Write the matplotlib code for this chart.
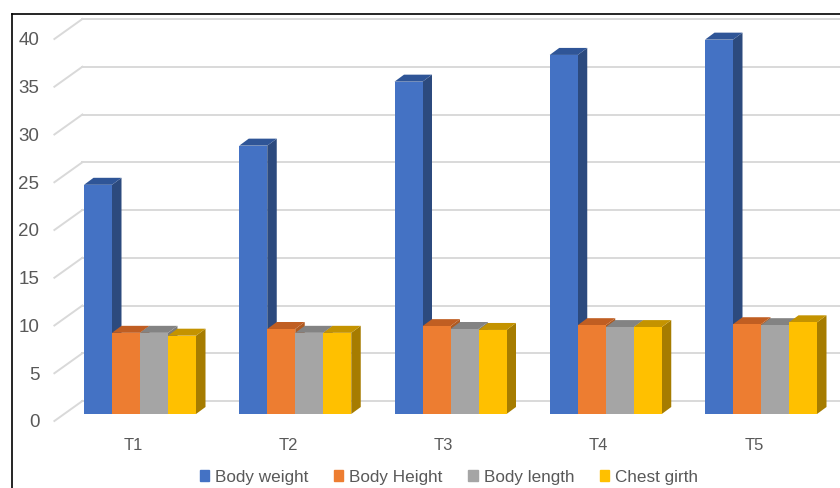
import numpy as np
import matplotlib.pyplot as plt
from matplotlib.patches import Polygon, Patch
from matplotlib.lines import Line2D

categories = ['T1', 'T2', 'T3', 'T4', 'T5']
series_names = ['Body weight', 'Body Height', 'Body length', 'Chest girth']
body_weight = [24.0, 28.1, 34.8, 37.6, 39.2]
body_height = [8.5, 8.9, 9.2, 9.3, 9.4]
body_length = [8.5, 8.5, 8.9, 9.1, 9.3]
chest_girth = [8.2, 8.5, 8.8, 9.1, 9.6]
y_ticks = [0, 5, 10, 15, 20, 25, 30, 35, 40]

values = [body_weight, body_height, body_length, chest_girth]
front_cols = ['#4472C4', '#ED7D31', '#A5A5A5', '#FFC000']
top_cols = ['#2F5597', '#C05E22', '#838383', '#C49300']
side_cols = ['#2C4A7E', '#AE5A21', '#7A7A7A', '#A67C00']
txt_col = '#595959'

W, H = 840, 489
fig = plt.figure(figsize=(W / 100, H / 100), dpi=100)
ax = fig.add_axes([0, 0, 1, 1])
ax.set_axis_off()

# pixel geometry of the fake 3D chart
cx0, cstep = 140.0, 155.25   # px of first group centre, px per category
y0, ppu = 415.0, 9.55        # px of value 0 (from top), px per unit
ax.set_xlim(-cx0 / cstep, (W - cx0) / cstep)
ax.set_ylim((y0 - H) / ppu, y0 / ppu)

def px(dx, dy):
    # pixel offset -> data offset (dy positive = up)
    return dx / cstep, dy / ppu

fx, fy = px(-8, -7)      # front plane relative to bar fronts
bx, by = px(20, 13)      # back wall relative to bar fronts
dx, dy = px(9.5, 7)      # bar depth
gcol = '#D9D9D9'

x = np.arange(len(categories))
for t in y_ticks:
    ax.plot([-0.5 + bx, 5.0 + bx], [t + by, t + by], color=gcol, lw=1.4, zorder=1)
    ax.plot([-0.5 + fx, -0.5 + bx], [t + fy, t + by], color=gcol, lw=1.4, zorder=1)
    ax.text(-0.5 + fx - px(15, 0)[0], t + fy - 0.1, str(t), ha='right', va='center',
            fontsize=13.5, color=txt_col, family='Liberation Sans')

bw = 28 / cstep
for j, vals in enumerate(values):
    xs = x - 2 * bw + j * bw + bw / 2
    bars = ax.bar(xs, vals, width=bw, color=front_cols[j], zorder=3)
    for b in bars:
        x0_, x1_ = b.get_x(), b.get_x() + b.get_width()
        v = b.get_height()
        side = Polygon([(x1_, 0), (x1_ + dx, dy), (x1_ + dx, v + dy), (x1_, v)],
                       closed=True, color=side_cols[j], lw=0, zorder=2)
        top = Polygon([(x0_, v), (x1_, v), (x1_ + dx, v + dy), (x0_ + dx, v + dy)],
                      closed=True, color=top_cols[j], lw=0, zorder=2.5)
        ax.add_patch(side)
        ax.add_patch(top)

for i, c in enumerate(categories):
    ax.text(i + fx + px(1, 0)[0], (y0 - 446) / ppu, c, ha='center', va='center',
            fontsize=12, color=txt_col, family='Liberation Sans')

handles = [Patch(color=c, label=n) for c, n in zip(front_cols, series_names)]
fig.legend(handles=handles, loc='center', bbox_to_anchor=(449 / W, 1 - 478 / H),
           ncol=4, frameon=False, handlelength=0.55, handleheight=0.55,
           handletextpad=0.35, columnspacing=1.5,
           prop={'family': 'Liberation Sans', 'size': 12.3}, labelcolor=txt_col)

# outer border (left and top only are visible)
fig.add_artist(Line2D([12 / W, 12 / W], [0, 1 - 15 / H], color='black', lw=1.2))
fig.add_artist(Line2D([12 / W, 1], [1 - 15 / H, 1 - 15 / H], color='black', lw=1.2))

fig.savefig('out.png', dpi=100)
